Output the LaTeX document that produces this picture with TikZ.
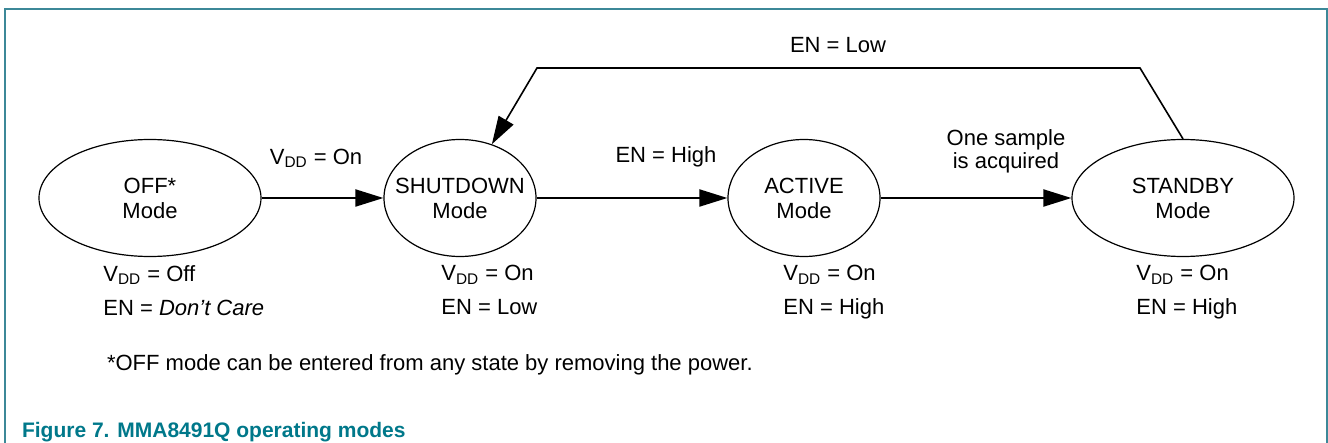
\documentclass[tikz,border=0pt]{standalone}
\usepackage{fontspec}
\setmainfont{Liberation Sans}
\usetikzlibrary{shapes.geometric,arrows.meta}
\definecolor{frameteal}{RGB}{60,136,152}
\definecolor{capteal}{RGB}{0,120,138}
\newcommand{\vdd}{V\textsubscript{DD}}

\begin{document}
\begin{tikzpicture}[x=0.5pt,y=-0.5pt,
	modewide/.style={ellipse,draw,line width=0.6pt,minimum width=111pt,minimum height=58.5pt,inner sep=0pt},
	modenarrow/.style={modewide,minimum width=76pt},
	modetext/.style={align=center,font=\fontsize{11}{12.5}\selectfont},
	cond/.style={anchor=north west,align=left,inner sep=0pt,font=\fontsize{11}{17}\selectfont},
	trlabel/.style={align=center,font=\fontsize{11}{11.5}\selectfont},
	trans/.style={line width=1pt,-{Triangle[length=14pt,width=8.5pt]}}]
	\useasboundingbox (0,0) rectangle (1328,443);
	% frame
	\draw[frameteal,line width=0.9pt] (5,443) -- (5,9) -- (1327,9) -- (1327,443);
	
	% modes
	\node[modewide] (off) at (150,198) {};
	\node[modenarrow] (shut) at (460,198) {};
	\node[modenarrow] (active) at (804,198) {};
	\node[modewide] (standby) at (1183,198) {};
	\node[modetext] (offtext) at (off) {OFF*\\Mode};
	\node[modetext] (shuttext) at (shut) {SHUTDOWN\\Mode};
	\node[modetext] (activetext) at (active) {ACTIVE\\Mode};
	\node[modetext] (standbytext) at (standby) {STANDBY\\Mode};
	
	% conditions under each mode
	\node[cond] (offcond) at (103,265) {\vdd{} = Off\\EN = \textit{Don’t Care}};
	\node[cond] (shutcond) at (441,265) {\vdd{} = On\\EN = Low};
	\node[cond] (activecond) at (783,265) {\vdd{} = On\\EN = High};
	\node[cond] (standbycond) at (1136,265) {\vdd{} = On\\EN = High};
	
	% transitions
	\draw[trans] (off) -- (shut);
	\node[trlabel] (pwron) at (316,158) {\vdd{} = On};
	\draw[trans] (shut) -- (active);
	\node[trlabel] (enhigh) at (666,157) {EN = High};
	\draw[trans] (active) -- (standby);
	\node[trlabel] (sample) at (1006,151) {One sample\\is acquired};
	
	% back to shutdown
	\coordinate (backR) at (1140,68);
	\coordinate (backL) at (537,68);
	\draw[line width=0.8pt,-{Triangle[length=14pt,width=8.5pt]}] (standby.north) -- (backR) -- (backL) -- (shut);
	\node[trlabel] (enlow) at (838,45) {EN = Low};
	
	% footnote and caption
	\node[anchor=west,font=\fontsize{11}{13}\selectfont] (note) at (100,365) {*OFF mode can be entered from any state by removing the power.};
	\node[anchor=west,text=capteal,font=\fontsize{10.5}{12}\selectfont\bfseries] (caption) at (15,432) {Figure 7. MMA8491Q operating modes};
\end{tikzpicture}
\end{document}
